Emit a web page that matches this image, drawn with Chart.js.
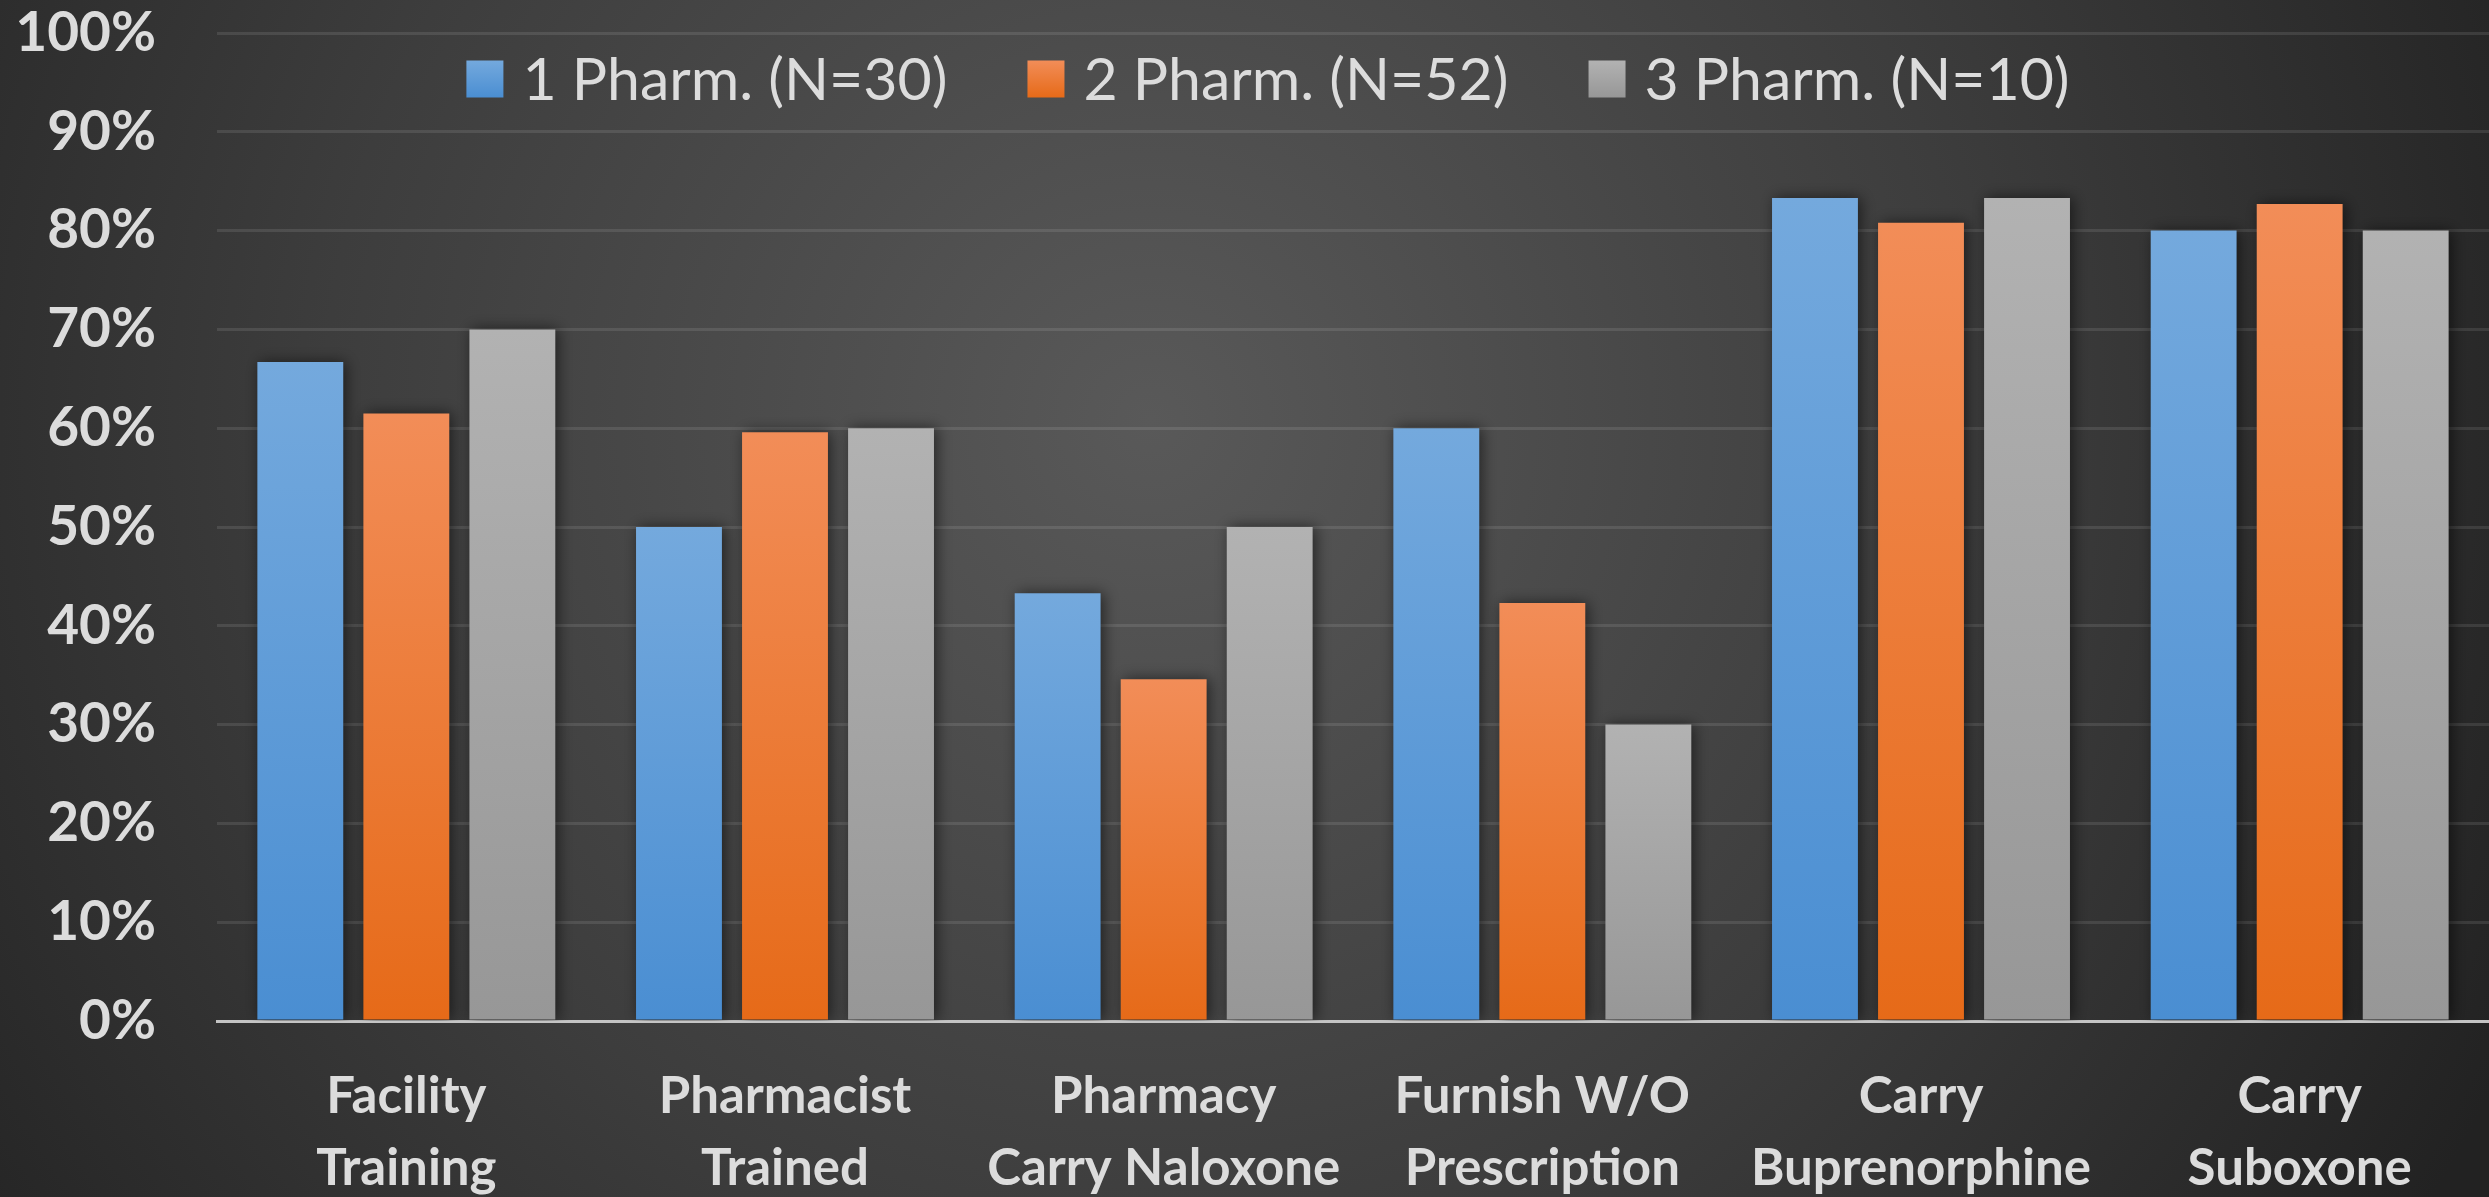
<!DOCTYPE html>
<html>
<head>
<meta charset="utf-8">
<script src="https://cdn.jsdelivr.net/npm/chart.js@4/dist/chart.umd.min.js"></script>
<style>
  html, body { margin: 0; padding: 0; background: #2a2a2a; }
  canvas { display: block; }
</style>
</head>
<body>
<canvas id="chart" width="2489" height="1197"></canvas>
<script>
// ── Datos ─────────────────────────────────────────────────────────────
const categorias = [
    ["Facility", "Training"],
    ["Pharmacist", "Trained"],
    ["Pharmacy", "Carry Naloxone"],
    ["Furnish W/O", "Prescription"],
    ["Carry", "Buprenorphine"],
    ["Carry", "Suboxone"],
];
const serie1 = [66.7, 50.0, 43.3, 60.0, 83.3, 80.0];   // 1 Pharm. (N=30)
const serie2 = [61.5, 59.6, 34.6, 42.3, 80.8, 82.7];   // 2 Pharm. (N=52)
const serie3 = [70.0, 60.0, 50.0, 30.0, 83.3, 80.0];   // 3 Pharm. (N=10)
const etiquetas = ["1 Pharm. (N=30)", "2 Pharm. (N=52)", "3 Pharm. (N=10)"];
const ticksY = [0, 10, 20, 30, 40, 50, 60, 70, 80, 90, 100];

const TEXTO = "#dcdcdc";
const FUENTE = "Lato, 'Open Sans', sans-serif";

// gradiente vertical por barra
function gradiente(arriba, abajo) {
    return (ctx) => {
        const chart = ctx.chart;
        const y = chart.scales.y;
        if (!y || !chart.chartArea || ctx.parsed === undefined) return abajo;
        const top = y.getPixelForValue(ctx.parsed.y);
        const base = y.getPixelForValue(0);
        if (!isFinite(top) || !isFinite(base) || top === base) return abajo;
        const g = chart.ctx.createLinearGradient(0, top, 0, base);
        g.addColorStop(0, arriba);
        g.addColorStop(1, abajo);
        return g;
    };
}

const fondo = {
    id: "fondo",
    beforeDraw(chart) {
        const { ctx, width, height } = chart;
        ctx.save();
        const g = ctx.createRadialGradient(1150, 420, 0, 1150, 420, 1500);
        g.addColorStop(0, "#595959");
        g.addColorStop(0.55, "#3d3d3d");
        g.addColorStop(1, "#222222");
        ctx.fillStyle = g;
        ctx.fillRect(0, 0, width, height);
        ctx.restore();
    }
};

const sombra = {
    id: "sombra",
    beforeDatasetsDraw(chart) {
        const ctx = chart.ctx;
        ctx.save();
        ctx.shadowColor = "rgba(0,0,0,0.55)";
        ctx.shadowBlur = 14;
        ctx.shadowOffsetX = 3;
        ctx.shadowOffsetY = 0;
    },
    afterDatasetsDraw(chart) {
        chart.ctx.restore();
    }
};

// leyenda dentro del área del gráfico
const leyenda = {
    id: "leyenda",
    afterDatasetsDraw(chart) {
        const ctx = chart.ctx;
        ctx.save();
        ctx.font = "59px " + FUENTE;
        ctx.textBaseline = "middle";
        const caja = 37, hueco = 19, sep = 80, cy = 79, cx = 1268;
        const items = chart.data.datasets.map(d => ({
            label: d.label, color: d.legendColor, w: ctx.measureText(d.label).width
        }));
        const total = items.reduce((s, it) => s + caja + hueco + it.w, 0) + sep * (items.length - 1);
        let x = cx - total / 2;
        items.forEach(it => {
            const g = ctx.createLinearGradient(0, cy - caja / 2, 0, cy + caja / 2);
            g.addColorStop(0, it.color[0]);
            g.addColorStop(1, it.color[1]);
            ctx.fillStyle = g;
            ctx.fillRect(x, cy - caja / 2, caja, caja);
            x += caja + hueco;
            ctx.fillStyle = TEXTO;
            ctx.fillText(it.label, x, cy + 2);
            x += it.w + sep;
        });
        ctx.restore();
    }
};

const colores = [
    ["#74a9dd", "#4a8ed2"],
    ["#f28d58", "#e66a18"],
    ["#b2b2b2", "#979797"],
];

new Chart(document.getElementById("chart"), {
    type: "bar",
    data: {
        labels: categorias,
        datasets: [serie1, serie2, serie3].map((vals, i) => ({
            label: etiquetas[i],
            data: vals,
            legendColor: colores[i],
            backgroundColor: gradiente(colores[i][0], colores[i][1]),
            borderWidth: 0,
            categoryPercentage: 0.84,
            barPercentage: 0.81,
        }))
    },
    options: {
        responsive: false,
        devicePixelRatio: 1,
        animation: false,
        layout: { padding: { top: 33, right: 0, bottom: 0, left: 0 } },
        plugins: { legend: { display: false }, tooltip: { enabled: false } },
        scales: {
            x: {
                grid: { display: false, drawTicks: false },
                border: { display: true, color: "#c4c4c4", width: 3 },
                ticks: {
                    color: TEXTO,
                    font: { family: FUENTE, size: 51, weight: "bold", lineHeight: 1.4 },
                    padding: 40,
                    maxRotation: 0,
                    autoSkip: false,
                },
                afterFit(s) { s.height = 176; s.paddingLeft = 0; s.paddingRight = 0; }
            },
            y: {
                min: 0,
                max: 100,
                afterBuildTicks(s) { s.ticks = ticksY.map(v => ({ value: v })); },
                grid: { color: "rgba(255,255,255,0.10)", lineWidth: 3, drawTicks: false },
                border: { display: false },
                ticks: {
                    color: TEXTO,
                    font: { family: FUENTE, size: 55, weight: "bold" },
                    padding: 61,
                    callback: v => v + "%",
                },
                afterFit(s) { s.width = 217; s.paddingTop = 0; s.paddingBottom = 0; }
            }
        }
    },
    plugins: [fondo, sombra, leyenda]
});
</script>
</body>
</html>
